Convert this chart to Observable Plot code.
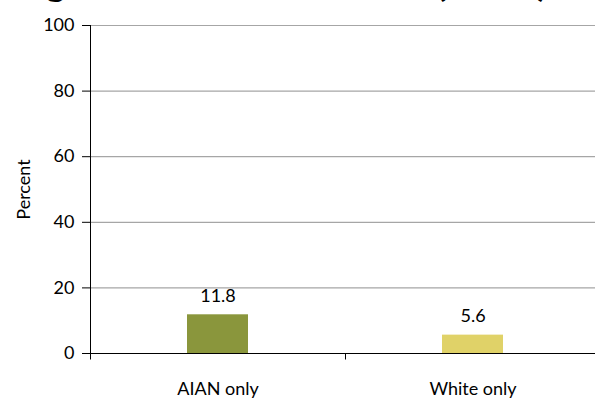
<!DOCTYPE html>
<html>
<head>
<meta charset="utf-8">
<script src="https://cdn.jsdelivr.net/npm/d3@7"></script>
<script src="https://cdn.jsdelivr.net/npm/@observablehq/plot@0.6"></script>
<style>
  html, body { margin: 0; padding: 0; background: #fff; overflow: hidden; }
  #wrap { position: relative; width: 595px; height: 399px; overflow: hidden; }
  #title {
    position: absolute; left: -101px; top: -42px; white-space: nowrap;
    font: bold 39px Lato, sans-serif; color: #000; line-height: 47px;
  }
  #chart { position: absolute; left: 0; top: 0; }
</style>
</head>
<body>
<div id="wrap">
  <div id="title">Crowding in AIAN Households (2010)</div>
  <div id="chart"></div>
</div>
<script>
// Share of people by race group (percent)
const categories = ["AIAN only", "White only"];
const values = [11.8, 5.6];
const colors = ["#8a963c", "#e0d268"];
const yTicks = [0, 20, 40, 60, 80, 100];

const data = categories.map((c, i) => ({category: c, value: values[i]}));

// Axis lines and category boundary ticks, drawn from the scales
function axisFrame(index, scales, values, dim) {
  const g = d3.create("svg:g").attr("stroke", "#000").attr("stroke-width", 1);
  const x = scales.x, y = scales.y;
  const y0 = Math.round(y(0)) + 0.5;
  const xl = dim.marginLeft + 0.5;
  g.append("line").attr("x1", xl).attr("x2", xl)
    .attr("y1", dim.marginTop).attr("y2", y0 + 5);
  g.append("line").attr("x1", xl - 8).attr("x2", dim.width)
    .attr("y1", y0).attr("y2", y0);
  for (const c of x.domain()) {
    const b = Math.round(x(c) + x.bandwidth() / 2 - x.step() / 2) + 0.5;
    g.append("line").attr("x1", b).attr("x2", b).attr("y1", y0).attr("y2", y0 + 6);
  }
  return g.node();
}

const chart = Plot.plot({
  width: 595,
  height: 399,
  marginTop: 25,
  marginBottom: 46,
  marginLeft: 90,
  marginRight: 0,
  style: {fontFamily: "Lato, sans-serif", fontSize: "18px", color: "#000", background: "transparent"},
  x: {
    domain: categories,
    range: [90, 600],
    paddingInner: 0.76,
    paddingOuter: 0.38,
    tickSize: 0,
    tickPadding: 29,
    label: null
  },
  y: {
    domain: [0, 100],
    ticks: yTicks,
    tickSize: 8,
    tickPadding: 8,
    grid: false,
    label: "Percent",
    labelArrow: "none",
    labelAnchor: "center",
    labelOffset: 73
  },
  color: {domain: categories, range: colors},
  marks: [
    Plot.gridY(yTicks.filter(t => t > 0), {stroke: "#a6a6a6", strokeOpacity: 1, strokeWidth: 1.2}),
    Plot.barY(data, {x: "category", y: "value", fill: "category"}),
    Plot.text(data, {x: "category", y: "value", text: d => d.value.toFixed(1), dy: -19, fontSize: 18, fill: "#000"}),
    axisFrame
  ]
});

document.getElementById("chart").appendChild(chart);
</script>
</body>
</html>
